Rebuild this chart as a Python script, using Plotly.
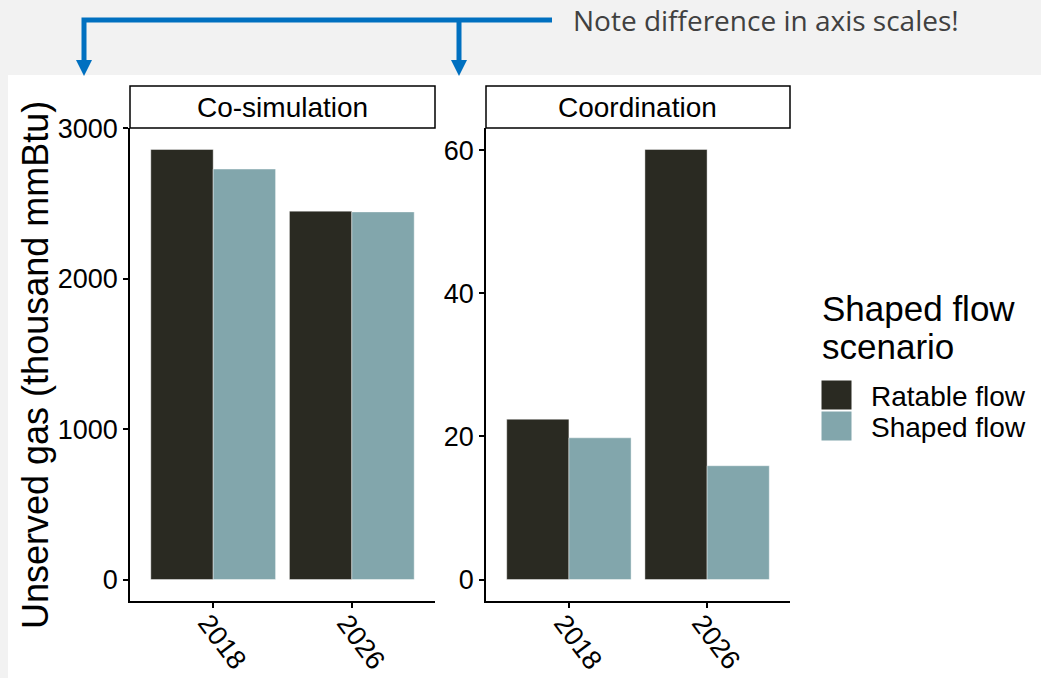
import plotly.graph_objects as go

# ---- data ----
years = ["2018", "2026"]
panels = ["Co-simulation", "Coordination"]
scenarios = ["Ratable flow", "Shaped flow"]
cosim_ratable = [2860, 2450]
cosim_shaped = [2730, 2445]
coord_ratable = [22.4, 60.1]
coord_shaped = [19.8, 15.9]
scenario_colors = ["#2A2A22", "#82A6AC"]

W, H = 1041, 678


def px(x):
    return x / W


def py(y):
    return 1 - y / H


fig = go.Figure()

panel_values = [
    (cosim_ratable, cosim_shaped, "x", "y"),
    (coord_ratable, coord_shaped, "x2", "y2"),
]
for ratable, shaped, xa, ya in panel_values:
    for name, vals, col in zip(scenarios, [ratable, shaped], scenario_colors):
        fig.add_trace(go.Bar(
            x=years, y=vals, name=name, marker_color=col,
            marker_line=dict(width=0.6, color="rgba(255,255,255,0.7)"),
            xaxis=xa, yaxis=ya, showlegend=False,
        ))

font_family = "Liberation Sans, Arial"
tick_font = dict(family=font_family, size=27, color="black")
axis_common = dict(
    showline=True, linecolor="black", linewidth=1.5,
    ticks="outside", ticklen=5, tickwidth=1.5, tickcolor="black",
    showgrid=False, zeroline=False, tickfont=tick_font, automargin=False,
)
# category labels are placed as rotated annotations below
x_common = dict(type="category", range=[-0.6, 1.6], showticklabels=False,
                **axis_common)

y_dom = [py(601), py(128)]
fig.update_layout(
    template="none",
    width=W, height=H,
    margin=dict(l=0, r=0, t=0, b=0, pad=0, autoexpand=False),
    paper_bgcolor="#F2F2F2",
    plot_bgcolor="white",
    barmode="group", bargap=0.1, bargroupgap=0,
    showlegend=False,
    xaxis=dict(domain=[px(130), px(435)], anchor="y", **x_common),
    xaxis2=dict(domain=[px(486), px(790)], anchor="y2", **x_common),
    yaxis=dict(domain=y_dom, anchor="x", range=[-143, 3003],
               tickvals=[0, 1000, 2000, 3000], **axis_common),
    yaxis2=dict(domain=y_dom, anchor="x2", range=[-3.005, 63.1],
                tickvals=[0, 20, 40, 60], **axis_common),
)

shapes = []
# white plotting canvas below the grey header band
shapes.append(dict(type="rect", xref="paper", yref="paper",
                   x0=px(8), x1=1, y0=0, y1=py(75),
                   fillcolor="white", line_width=0, layer="below"))

annotations = []
# rotated year labels under each panel (category index on the x axis)
for xref in ("x", "x2"):
    for idx, yr in enumerate(years):
        annotations.append(dict(text=yr, xref=xref, yref="paper",
                                x=idx, y=py(642), xshift=9, textangle=53,
                                showarrow=False, xanchor="center", yanchor="middle",
                                font=tick_font))

# facet strips
for label, (x0, x1) in zip(panels, [(130, 435), (486, 790)]):
    shapes.append(dict(type="rect", xref="paper", yref="paper",
                       x0=px(x0), x1=px(x1), y0=py(128), y1=py(86),
                       fillcolor="white", line=dict(color="black", width=1.5)))
    annotations.append(dict(text=label, xref="paper", yref="paper",
                            x=px((x0 + x1) / 2), y=py(107), showarrow=False,
                            xanchor="center", yanchor="middle",
                            font=dict(family=font_family, size=28, color="black")))

# y axis title
annotations.append(dict(text="Unserved gas (thousand mmBtu)", xref="paper", yref="paper",
                        x=px(35), y=py(365), textangle=-90, showarrow=False,
                        xanchor="center", yanchor="middle",
                        font=dict(family=font_family, size=36, color="black")))

# legend
annotations.append(dict(text="Shaped flow", xref="paper", yref="paper",
                        x=px(820), y=py(308), showarrow=False,
                        xanchor="left", yanchor="middle",
                        font=dict(family=font_family, size=35, color="black")))
annotations.append(dict(text="scenario", xref="paper", yref="paper",
                        x=px(820), y=py(346), showarrow=False,
                        xanchor="left", yanchor="middle",
                        font=dict(family=font_family, size=35, color="black")))
for i, (name, col) in enumerate(zip(scenarios, scenario_colors)):
    top = 380 + i * 31
    shapes.append(dict(type="rect", xref="paper", yref="paper",
                       x0=px(821), x1=px(852), y0=py(top + 30), y1=py(top),
                       fillcolor=col, line=dict(color="white", width=1)))
    annotations.append(dict(text=name, xref="paper", yref="paper",
                            x=px(869), y=py(top + 16), showarrow=False,
                            xanchor="left", yanchor="middle",
                            font=dict(family=font_family, size=28, color="black")))

# callout arrows in the header band
blue = "#0070C0"
shapes.append(dict(type="path", xref="paper", yref="paper",
                   path=f"M {px(552)},{py(20)} L {px(84)},{py(20)} L {px(84)},{py(62)}",
                   line=dict(color=blue, width=5)))
shapes.append(dict(type="line", xref="paper", yref="paper",
                   x0=px(459), x1=px(459), y0=py(20), y1=py(62),
                   line=dict(color=blue, width=5)))
for cx in (84, 459):
    shapes.append(dict(type="path", xref="paper", yref="paper",
                       path=(f"M {px(cx - 8)},{py(60)} L {px(cx + 8)},{py(60)} "
                             f"L {px(cx)},{py(76)} Z"),
                       fillcolor=blue, line_width=0))
annotations.append(dict(text="Note difference in axis scales!", xref="paper", yref="paper",
                        x=px(571), y=py(20), showarrow=False,
                        xanchor="left", yanchor="middle",
                        font=dict(family="Open Sans", size=28, color="#404040")))

fig.update_layout(shapes=shapes, annotations=annotations)
fig.write_html("out.html")
